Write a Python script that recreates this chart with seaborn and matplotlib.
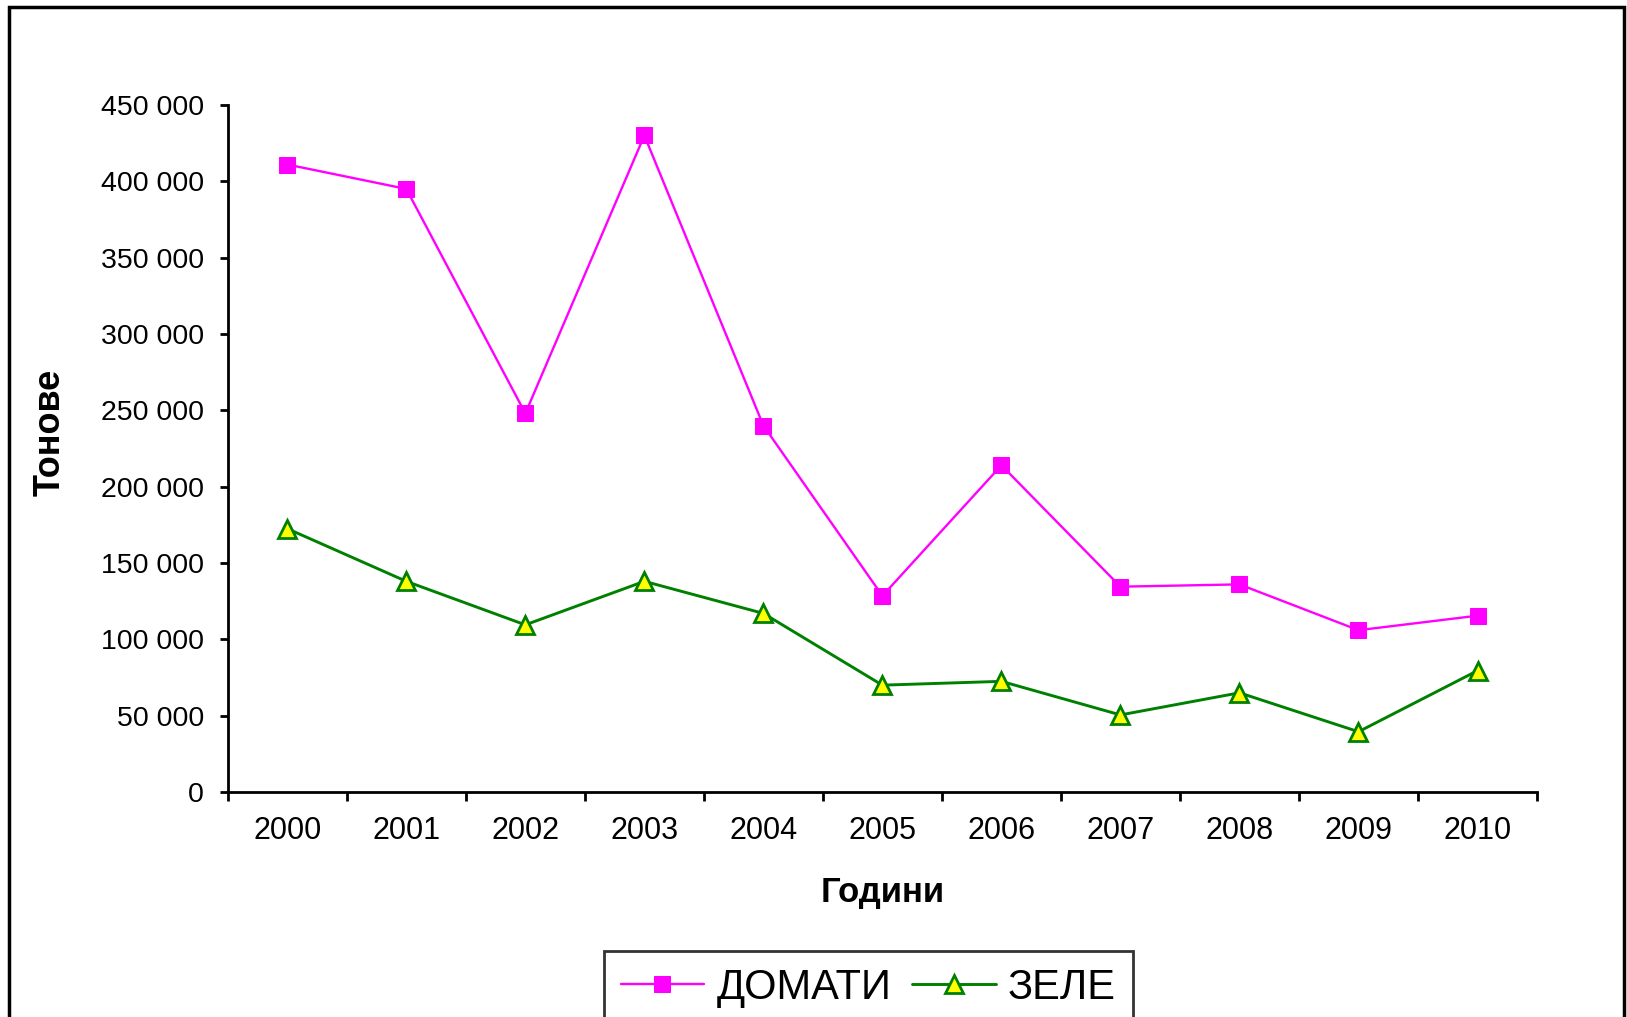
import numpy as np
import pandas as pd
import matplotlib
matplotlib.use('Agg')
import matplotlib.pyplot as plt
from matplotlib.patches import Rectangle
import seaborn as sns

# Data
years = ['2000', '2001', '2002', '2003', '2004', '2005', '2006', '2007', '2008', '2009', '2010']
tomatoes = [411000, 395000, 248000, 430000, 240000, 128500, 214000, 134500, 136000, 106000, 115500]
cabbage = [172500, 138000, 109500, 138000, 117000, 70000, 72500, 50500, 65000, 39500, 79500]
series_names = ['ДОМАТИ', 'ЗЕЛЕ']
y_ticks = [0, 50000, 100000, 150000, 200000, 250000, 300000, 350000, 400000, 450000]

df = pd.DataFrame({
    'idx': list(range(len(years))) * 2,
    'value': tomatoes + cabbage,
    'series': [series_names[0]] * len(years) + [series_names[1]] * len(years),
})

sns.set_theme(style='white')
plt.rcParams['font.family'] = ['Liberation Sans', 'DejaVu Sans']
plt.rcParams['text.color'] = 'black'
plt.rcParams['axes.labelcolor'] = 'black'
plt.rcParams['xtick.color'] = 'black'
plt.rcParams['ytick.color'] = 'black'

fig = plt.figure(figsize=(16.27, 10.17), dpi=100)
ax = fig.add_axes([0.140, 0.2212, 0.8047, 0.6756])

# Lines
sns.lineplot(data=df[df['series'] == series_names[0]], x='idx', y='value', ax=ax,
             color='#FF00FF', linewidth=1.7, marker='s', markersize=11,
             markerfacecolor='#FF00FF', markeredgecolor='#FF00FF', label=series_names[0])
sns.lineplot(data=df[df['series'] == series_names[1]], x='idx', y='value', ax=ax,
             color='#008000', linewidth=2.1, marker='^', markersize=13,
             markerfacecolor='#FFFF00', markeredgecolor='#008000', markeredgewidth=2,
             label=series_names[1])

# Axes
ax.set_xlim(-0.5, len(years) - 0.5)
ax.set_ylim(0, 450000)
ax.set_xticks(np.arange(-0.5, len(years), 1))
ax.set_xticklabels([])
ax.set_xticks(range(len(years)), minor=True)
ax.set_xticklabels(years, minor=True, fontsize=22)
ax.set_yticks(y_ticks)
ax.set_yticklabels([f'{v:,.0f}'.replace(',', ' ') for v in y_ticks], fontsize=20.5)

ax.tick_params(axis='x', which='major', direction='out', length=6.5, width=2, bottom=True)
ax.tick_params(axis='x', which='minor', length=0, pad=17, bottom=True)
ax.tick_params(axis='y', direction='out', length=6, width=2, left=True, pad=11)

for side in ['top', 'right']:
    ax.spines[side].set_visible(False)
for side in ['left', 'bottom']:
    ax.spines[side].set_color('black')
    ax.spines[side].set_linewidth(2)

ax.set_xlabel('Години', fontsize=25, fontweight='bold')
ax.xaxis.set_label_coords(0.5, -0.122)
ax.set_ylabel('Тонове', fontsize=26, fontweight='bold')
ax.yaxis.set_label_coords(-0.122, 0.523)

# Legend
ax.legend_.remove()
handles, labels = ax.get_legend_handles_labels()
leg = fig.legend(handles, labels, loc='upper center', bbox_to_anchor=(0.5337, 0.0649),
                 bbox_transform=fig.transFigure, ncol=2, fontsize=30, frameon=True,
                 fancybox=False, handlelength=2.0, handletextpad=0.3, columnspacing=0.5,
                 borderpad=0.4, borderaxespad=0)
leg.get_frame().set_edgecolor('black')
leg.get_frame().set_linewidth(2)

# Outer border
fig.patches.append(Rectangle((9 / 1627, -0.1), (1624 - 9) / 1627, 1.1 - 7 / 1017,
                             transform=fig.transFigure, fill=False,
                             edgecolor='black', linewidth=2.5))

fig.savefig('out.png', dpi=100)
